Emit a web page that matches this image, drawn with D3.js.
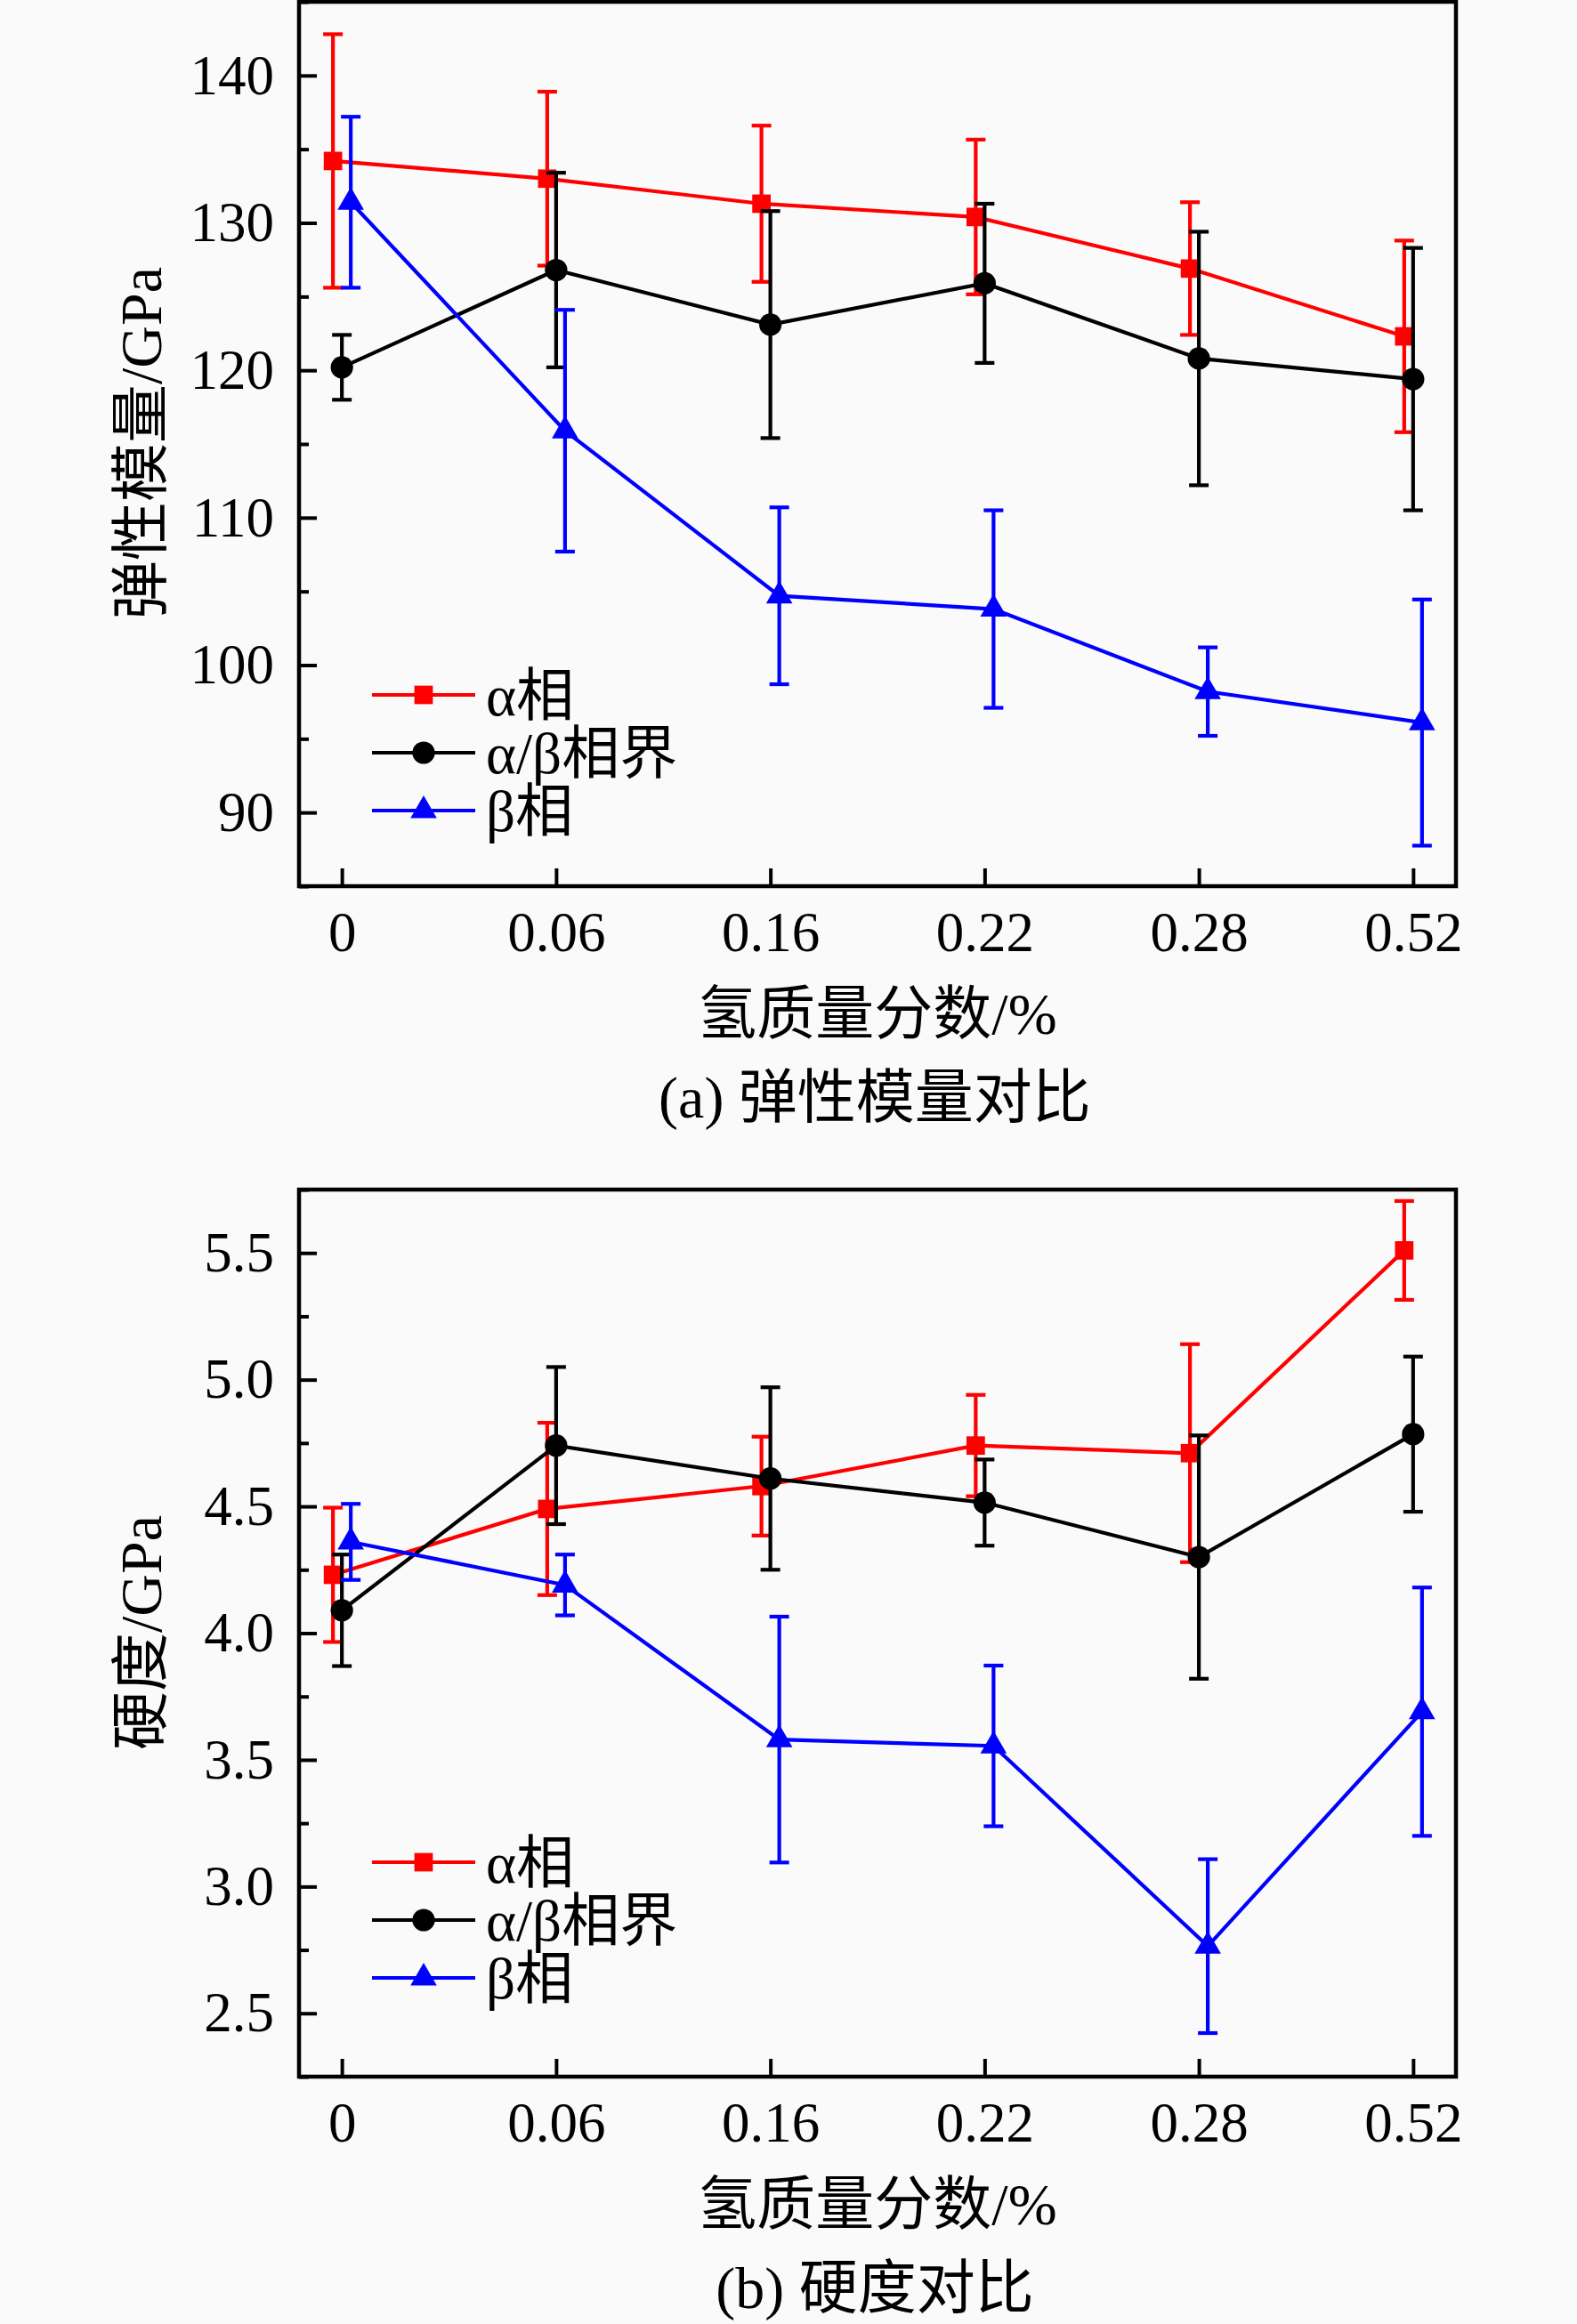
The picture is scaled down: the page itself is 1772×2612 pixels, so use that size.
<!DOCTYPE html>
<html>
<head>
<meta charset="utf-8">
<script src="https://cdn.jsdelivr.net/npm/d3@7"></script>
<style>
  body { margin: 0; background: #fafafa; }
  svg { display: block; }
  text { font-family: "Liberation Serif", "Times New Roman", "Noto Sans CJK SC", serif; fill: #000; }
</style>
</head>
<body>
<svg id="chart"></svg>
<script>
// categories (hydrogen mass fraction, %)
const hydrogen = ["0", "0.06", "0.16", "0.22", "0.28", "0.52"];
const seriesNames = ["α相", "α/β相界", "β相"];

// (a) elastic modulus, GPa
const alphaModulus = [134.2, 133.0, 131.3, 130.4, 126.9, 122.3];
const alphaModulusErr = [8.6, 5.9, 5.3, 5.25, 4.5, 6.5];
const boundaryModulus = [120.2, 126.8, 123.1, 125.9, 120.8, 119.4];
const boundaryModulusErr = [2.2, 6.6, 7.7, 5.4, 8.6, 8.9];
const betaModulus = [131.4, 115.9, 104.7, 103.8, 98.2, 96.1];
const betaModulusErr = [5.8, 8.2, 6.0, 6.7, 3.0, 8.35];
const modulusTicks = [90, 100, 110, 120, 130, 140];
const modulusMinor = [85, 95, 105, 115, 125, 135, 145];

// (b) hardness, GPa
const alphaHardness = [4.23, 4.49, 4.58, 4.74, 4.71, 5.51];
const alphaHardnessErr = [0.265, 0.34, 0.195, 0.2, 0.43, 0.195];
const boundaryHardness = [4.09, 4.74, 4.61, 4.515, 4.30, 4.785];
const boundaryHardnessErr = [0.22, 0.31, 0.36, 0.17, 0.48, 0.306];
const betaHardness = [4.36, 4.19, 3.58, 3.555, 2.765, 3.69];
const betaHardnessErr = [0.15, 0.12, 0.485, 0.317, 0.343, 0.49];
const hardnessTicks = [2.5, 3.0, 3.5, 4.0, 4.5, 5.0, 5.5];
const hardnessMinor = [2.25, 2.75, 3.25, 3.75, 4.25, 4.75, 5.25, 5.75];

const width = 1772;
const height = 2612;
const colors = ["#ff0000", "#000000", "#0000ff"];
const symbols = [d3.symbolSquare, d3.symbolCircle, d3.symbolTriangle];
const symbolSizes = [430, 500, 380];
const offsets = [-10, 0, 10];   // Origin style shift so the bars don't overlap
const lw = 4.2;

const svg = d3.select("#chart").attr("width", width).attr("height", height);

function drawPanel(cfg) {
  let { top, bottom, left, right, domain, ticks, minor, fmt, series, errs, yTitle, caption, yTitleY, legendY } = cfg;

  let x = d3.scalePoint().domain(hydrogen).range([left, right]).padding(0.2);
  let y = d3.scaleLinear().domain(domain).range([bottom, top]);
  let g = svg.append("g");

  // y axis, ticks pointing inside
  let yAxis = g.append("g")
    .attr("transform", `translate(${left},0)`)
    .call(d3.axisLeft(y).tickValues(ticks).tickFormat(fmt).tickSizeInner(-20).tickSizeOuter(0).tickPadding(28));
  yAxis.select(".domain").remove();
  yAxis.selectAll("line").attr("stroke-width", 4);
  yAxis.selectAll("text").style("font-size", "63px");

  let yMinor = g.append("g")
    .attr("transform", `translate(${left},0)`)
    .call(d3.axisLeft(y).tickValues(minor).tickFormat("").tickSizeInner(-11).tickSizeOuter(0));
  yMinor.select(".domain").remove();
  yMinor.selectAll("line").attr("stroke-width", 4);

  let xAxis = g.append("g")
    .attr("transform", `translate(0,${bottom})`)
    .call(d3.axisBottom(x).tickSizeInner(-20).tickSizeOuter(0).tickPadding(28));
  xAxis.select(".domain").remove();
  xAxis.selectAll("line").attr("stroke-width", 4);
  xAxis.selectAll("text").style("font-size", "63px");

  // series: lines, error bars, markers
  series.forEach((vals, i) => {
    let pts = hydrogen.map((h, j) => ({ x: x(h) + offsets[i], v: vals[j], e: errs[i][j] }));

    g.append("path")
      .datum(pts)
      .attr("fill", "none")
      .attr("stroke", colors[i])
      .attr("stroke-width", lw)
      .attr("d", d3.line().x(d => d.x).y(d => y(d.v)));

    let bars = g.append("g").attr("stroke", colors[i]).attr("stroke-width", lw);
    bars.selectAll(".stem").data(pts).enter().append("line")
      .attr("x1", d => d.x).attr("x2", d => d.x)
      .attr("y1", d => y(d.v + d.e)).attr("y2", d => y(d.v - d.e));
    bars.selectAll(".capTop").data(pts).enter().append("line")
      .attr("x1", d => d.x - 11).attr("x2", d => d.x + 11)
      .attr("y1", d => y(d.v + d.e)).attr("y2", d => y(d.v + d.e));
    bars.selectAll(".capBot").data(pts).enter().append("line")
      .attr("x1", d => d.x - 11).attr("x2", d => d.x + 11)
      .attr("y1", d => y(d.v - d.e)).attr("y2", d => y(d.v - d.e));

    g.append("g").selectAll("path").data(pts).enter().append("path")
      .attr("transform", d => `translate(${d.x},${y(d.v)})`)
      .attr("d", d3.symbol().type(symbols[i]).size(symbolSizes[i]))
      .attr("fill", colors[i]);
  });

  // frame
  g.append("rect")
    .attr("x", left).attr("y", top)
    .attr("width", right - left).attr("height", bottom - top)
    .attr("fill", "none").attr("stroke", "#000").attr("stroke-width", 4.5);

  // legend
  seriesNames.forEach((name, i) => {
    let ly = legendY + i * 65;
    g.append("line")
      .attr("x1", 418).attr("x2", 534).attr("y1", ly).attr("y2", ly)
      .attr("stroke", colors[i]).attr("stroke-width", lw);
    g.append("path")
      .attr("transform", `translate(476,${ly})`)
      .attr("d", d3.symbol().type(symbols[i]).size(symbolSizes[i]))
      .attr("fill", colors[i]);
    g.append("text")
      .attr("x", 546).attr("y", ly + 23)
      .style("font-size", "65px")
      .text(name);
  });

  // axis titles and caption
  g.append("text")
    .attr("transform", `translate(181,${yTitleY}) rotate(-90)`)
    .attr("text-anchor", "middle")
    .style("font-size", "66px")
    .text(yTitle);

  g.append("text")
    .attr("x", (left + right) / 2).attr("y", bottom + 166)
    .attr("text-anchor", "middle")
    .style("font-size", "66px")
    .text("氢质量分数/%");

  g.append("text")
    .attr("x", (left + right) / 2 - 3).attr("y", bottom + 260)
    .attr("text-anchor", "middle")
    .style("font-size", "66px")
    .text(caption);
}

drawPanel({
  top: 2, bottom: 996, left: 336, right: 1636,
  domain: [85, 145], ticks: modulusTicks, minor: modulusMinor, fmt: d3.format("d"),
  series: [alphaModulus, boundaryModulus, betaModulus],
  errs: [alphaModulusErr, boundaryModulusErr, betaModulusErr],
  yTitle: "弹性模量/GPa", caption: "(a) 弹性模量对比",
  yTitleY: 498, legendY: 781
});

drawPanel({
  top: 1337, bottom: 2334, left: 336, right: 1636,
  domain: [2.25, 5.75], ticks: hardnessTicks, minor: hardnessMinor, fmt: d3.format(".1f"),
  series: [alphaHardness, boundaryHardness, betaHardness],
  errs: [alphaHardnessErr, boundaryHardnessErr, betaHardnessErr],
  yTitle: "硬度/GPa", caption: "(b) 硬度对比",
  yTitleY: 1835, legendY: 2093
});
</script>
</body>
</html>
